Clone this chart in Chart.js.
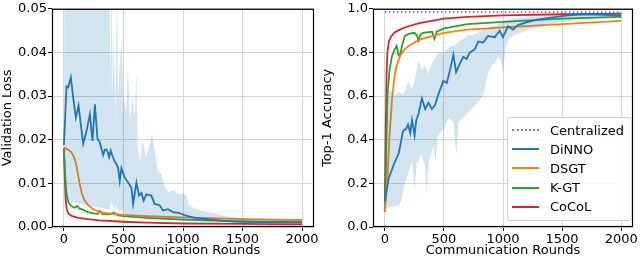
<!DOCTYPE html>
<html>
<head>
<meta charset="utf-8">
<script src="https://cdn.jsdelivr.net/npm/chart.js@4.4.0/dist/chart.umd.min.js"></script>
<style>
  body { margin: 0; background: #fff; }
  #wrap { position: relative; width: 640px; height: 258px; }
  .box { position: absolute; top: 0; width: 320px; height: 258px; }
  #legend {
    position: absolute; left: 507px; top: 117px; width: 125px; height: 104px;
    border: 1px solid #d0d0d0; border-radius: 3px; background: rgba(255,255,255,0.85);
    font: 13px "DejaVu Sans", sans-serif; color: #000; box-sizing: border-box; padding-top: 2.5px;
  }
  .row { display: flex; align-items: center; height: 19.2px; }
  .swatch { width: 27px; margin-left: 4px; margin-right: 11px; }
</style>
</head>
<body>
<div id="wrap">
  <div class="box" style="left:0"><canvas id="lossChart" width="320" height="258"></canvas></div>
  <div class="box" style="left:320px"><canvas id="accChart" width="320" height="258"></canvas></div>
  <div id="legend"></div>
</div>
<script>
// ---- data ----
const xTicks = [0, 500, 1000, 1500, 2000];

// validation loss
const dinnoLossX = [0, 22, 36, 58, 83, 100, 123, 162, 190, 218, 240, 260, 282, 300, 315, 330, 343, 355, 371, 380, 393, 405, 427, 440, 455, 469, 483, 511, 539, 567, 581, 609, 631, 651, 670, 692, 734, 762, 804, 832, 874, 916, 971, 1013, 1041, 1100, 1200, 1300, 1400, 1500, 1700, 2000];
const dinnoLoss = [0.0188, 0.0322, 0.032, 0.0343, 0.0285, 0.0251, 0.0278, 0.0191, 0.022, 0.0258, 0.0197, 0.0281, 0.0202, 0.0195, 0.018, 0.0165, 0.0177, 0.0178, 0.017, 0.016, 0.0175, 0.0165, 0.015, 0.0145, 0.0135, 0.0105, 0.0135, 0.0113, 0.0102, 0.009, 0.0053, 0.0102, 0.0072, 0.0078, 0.006, 0.0075, 0.0072, 0.0053, 0.005, 0.0038, 0.0041, 0.0034, 0.0032, 0.0027, 0.0025, 0.0021, 0.0018, 0.0015, 0.0013, 0.0012, 0.0011, 0.001];
const dinnoLossBandX = [0, 6, 380, 390, 400, 410, 420, 435, 445, 455, 470, 485, 500, 520, 537, 555, 575, 595, 608, 620, 640, 660, 690, 720, 740, 760, 790, 820, 850, 880, 920, 960, 1000, 1030, 1050, 1100, 1200, 1300, 1350, 1500, 1700, 2000];
const dinnoLossHi = [0.019, 0.08, 0.08, 0.03, 0.06, 0.03, 0.045, 0.025, 0.06, 0.03, 0.038, 0.042, 0.03, 0.026, 0.037, 0.024, 0.03, 0.025, 0.036, 0.018, 0.015, 0.02, 0.016, 0.019, 0.0215, 0.018, 0.013, 0.012, 0.009, 0.008, 0.0085, 0.0075, 0.0078, 0.007, 0.005, 0.0042, 0.0035, 0.003, 0.0025, 0.002, 0.0017, 0.0015];
const dinnoLossLo = [0.018, 0.006, 0.004, 0.005, 0.006, 0.005, 0.004, 0.005, 0.004, 0.004, 0.0035, 0.004, 0.003, 0.003, 0.0028, 0.0026, 0.0025, 0.0024, 0.0023, 0.0022, 0.002, 0.002, 0.002, 0.0019, 0.0019, 0.0018, 0.0018, 0.0017, 0.0017, 0.0016, 0.0016, 0.0015, 0.0015, 0.0014, 0.0014, 0.0013, 0.0012, 0.0011, 0.0011, 0.001, 0.0009, 0.0008];
const dsgtLossX = [0, 30, 60, 80, 100, 115, 130, 150, 170, 200, 250, 300, 400, 500, 700, 1000, 1500, 2000];
const dsgtLoss = [0.0182, 0.0178, 0.0172, 0.0163, 0.0148, 0.0125, 0.0102, 0.0078, 0.0063, 0.0051, 0.004, 0.0034, 0.003, 0.0028, 0.0025, 0.0022, 0.0018, 0.0016];
const kgtLossX = [0, 10, 20, 35, 60, 90, 110, 130, 160, 200, 250, 285, 300, 320, 380, 420, 450, 500, 700, 1000, 1500, 2000];
const kgtLoss = [0.018, 0.012, 0.008, 0.0058, 0.0048, 0.0044, 0.0048, 0.0042, 0.004, 0.0034, 0.0031, 0.003, 0.0037, 0.003, 0.0029, 0.0033, 0.0027, 0.0025, 0.0021, 0.0017, 0.0013, 0.0011];
const cocolLossX = [0, 8, 15, 25, 40, 70, 120, 200, 300, 500, 700, 1000, 1500, 2000];
const cocolLoss = [0.018, 0.011, 0.006, 0.004, 0.003, 0.0025, 0.0021, 0.0018, 0.0015, 0.0012, 0.001, 0.0008, 0.0007, 0.0006];

// top-1 accuracy
const centralizedAcc = 0.985;
const dinnoAccX = [0, 34, 76, 118, 154, 180, 196, 215, 230, 252, 266, 286, 314, 342, 370, 398, 426, 454, 496, 524, 552, 580, 603, 636, 664, 692, 720, 762, 790, 832, 874, 930, 972, 1000, 1042, 1084, 1126, 1210, 1294, 1406, 1546, 1686, 2000];
const dinnoAcc = [0.12, 0.225, 0.287, 0.338, 0.44, 0.45, 0.47, 0.43, 0.49, 0.42, 0.49, 0.52, 0.59, 0.54, 0.57, 0.54, 0.56, 0.61, 0.67, 0.66, 0.72, 0.79, 0.71, 0.75, 0.78, 0.77, 0.8, 0.815, 0.85, 0.845, 0.875, 0.87, 0.9, 0.87, 0.92, 0.905, 0.925, 0.94, 0.95, 0.96, 0.97, 0.975, 0.97];
const dinnoAccBandX = [0, 15, 30, 50, 80, 120, 140, 160, 200, 230, 255, 270, 280, 300, 310, 340, 355, 365, 375, 400, 410, 430, 450, 500, 540, 560, 580, 605, 625, 660, 700, 750, 815, 840, 870, 900, 930, 960, 980, 1000, 1020, 1050, 1100, 1200, 1400, 1500, 1600, 2000];
const dinnoAccHi = [0.12, 0.5, 0.62, 0.63, 0.6, 0.62, 0.61, 0.61, 0.67, 0.63, 0.68, 0.72, 0.76, 0.74, 0.72, 0.74, 0.72, 0.7, 0.72, 0.75, 0.76, 0.78, 0.8, 0.8, 0.82, 0.83, 0.83, 0.84, 0.85, 0.86, 0.88, 0.88, 0.9, 0.91, 0.91, 0.92, 0.92, 0.93, 0.93, 0.94, 0.945, 0.95, 0.955, 0.96, 0.97, 0.975, 0.975, 0.975];
const dinnoAccLo = [0.1, 0.085, 0.088, 0.09, 0.095, 0.1, 0.12, 0.18, 0.25, 0.3, 0.17, 0.3, 0.29, 0.33, 0.33, 0.28, 0.15, 0.25, 0.3, 0.35, 0.37, 0.3, 0.42, 0.45, 0.5, 0.49, 0.48, 0.33, 0.48, 0.5, 0.52, 0.55, 0.59, 0.62, 0.7, 0.74, 0.75, 0.78, 0.77, 0.71, 0.82, 0.86, 0.88, 0.9, 0.93, 0.94, 0.95, 0.965];
const dsgtAccX = [0, 20, 40, 60, 80, 100, 130, 160, 200, 300, 400, 500, 700, 1000, 1500, 2000];
const dsgtAcc = [0.07, 0.2, 0.42, 0.58, 0.68, 0.74, 0.785, 0.81, 0.83, 0.86, 0.875, 0.89, 0.905, 0.915, 0.93, 0.945];
const kgtAccX = [0, 10, 22, 40, 60, 80, 100, 115, 125, 150, 170, 200, 250, 270, 285, 300, 320, 400, 420, 440, 500, 700, 1000, 1500, 2000];
const kgtAcc = [0.07, 0.3, 0.6, 0.72, 0.78, 0.81, 0.83, 0.79, 0.78, 0.84, 0.875, 0.885, 0.89, 0.88, 0.855, 0.88, 0.89, 0.895, 0.862, 0.895, 0.91, 0.93, 0.94, 0.955, 0.963];
const cocolAccX = [0, 8, 15, 22, 35, 50, 80, 110, 150, 200, 300, 400, 500, 700, 1000, 1500, 2000];
const cocolAcc = [0.11, 0.45, 0.7, 0.8, 0.85, 0.87, 0.89, 0.9, 0.91, 0.92, 0.935, 0.945, 0.955, 0.963, 0.97, 0.975, 0.978];

const COLORS = { cent: '#9467bd', dinno: '#1f77b4', dsgt: '#ff7f0e', kgt: '#2ca02c', cocol: '#d62728' };
const FONT = { family: '"DejaVu Sans", sans-serif', size: 13 };

function pts(xs, ys) {
  return xs.map((x, i) => ({ x: x, y: ys[i] }));
}
function line(label, xs, ys, color) {
  return { label: label, data: pts(xs, ys), borderColor: color, borderWidth: 1.8, pointRadius: 0, fill: false, tension: 0 };
}
function band(xs, hi, lo, color) {
  return [
    { label: '_hi', data: pts(xs, hi), borderWidth: 0, borderColor: 'transparent', pointRadius: 0, fill: false },
    { label: '_lo', data: pts(xs, lo), borderWidth: 0, borderColor: 'transparent', pointRadius: 0, fill: '-1', backgroundColor: color }
  ];
}

// black frame round the plot area, like matplotlib spines
const framePlugin = {
  id: 'frame',
  afterDatasetsDraw(chart) {
    const a = chart.chartArea, c = chart.ctx;
    c.save();
    c.strokeStyle = '#000';
    c.lineWidth = 1.2;
    c.strokeRect(a.left + 0.5, a.top + 0.5, a.right - a.left - 1, a.bottom - a.top - 1);
    c.restore();
  }
};

function makeOptions(yMax, yStep, yDec, yTitle, padRight, yWidth) {
  return {
    responsive: false,
    animation: false,
    layout: { autoPadding: false, padding: { left: 0, right: padRight, top: 4, bottom: 0 } },
    plugins: { legend: { display: false }, tooltip: { enabled: false } },
    scales: {
      x: {
        type: 'linear', min: -100, max: 2100,
        afterBuildTicks: s => { s.ticks = xTicks.map(v => ({ value: v })); },
        afterFit: s => { s.height = 31; },
        grid: { color: '#d4d4d4', lineWidth: 1, tickColor: '#000', tickLength: 4 },
        border: { display: false },
        ticks: { color: '#000', font: FONT, padding: 1, maxRotation: 0, callback: v => String(v) },
        title: { display: true, text: 'Communication Rounds', color: '#000', font: FONT, padding: { top: 0, bottom: 0 } }
      },
      y: {
        min: 0, max: yMax,
        ticks: { stepSize: yStep, color: '#000', font: FONT, padding: 1, callback: v => v.toFixed(yDec) },
        afterFit: s => { s.width = yWidth; },
        grid: { color: '#d4d4d4', lineWidth: 1, tickColor: '#000', tickLength: 4 },
        border: { display: false },
        title: { display: true, text: yTitle, color: '#000', font: FONT, padding: { top: 0, bottom: 2 } }
      }
    }
  };
}

new Chart(document.getElementById('lossChart').getContext('2d'), {
  type: 'line',
  data: {
    datasets: [
      ...band(dinnoLossBandX, dinnoLossHi, dinnoLossLo, 'rgba(31,119,180,0.2)'),
      line('DiNNO', dinnoLossX, dinnoLoss, COLORS.dinno),
      line('DSGT', dsgtLossX, dsgtLoss, COLORS.dsgt),
      line('K-GT', kgtLossX, kgtLoss, COLORS.kgt),
      line('CoCoL', cocolLossX, cocolLoss, COLORS.cocol)
    ]
  },
  options: makeOptions(0.05, 0.01, 2, 'Validation Loss', 6, 52),
  plugins: [framePlugin]
});

const centLine = line('Centralized', [0, 2000], [centralizedAcc, centralizedAcc], COLORS.cent);
centLine.borderDash = [1.5, 2.5];

new Chart(document.getElementById('accChart').getContext('2d'), {
  type: 'line',
  data: {
    datasets: [
      ...band(dinnoAccBandX, dinnoAccHi, dinnoAccLo, 'rgba(31,119,180,0.2)'),
      centLine,
      line('DiNNO', dinnoAccX, dinnoAcc, COLORS.dinno),
      line('DSGT', dsgtAccX, dsgtAcc, COLORS.dsgt),
      line('K-GT', kgtAccX, kgtAcc, COLORS.kgt),
      line('CoCoL', cocolAccX, cocolAcc, COLORS.cocol)
    ]
  },
  options: makeOptions(1.0, 0.2, 1, 'Top-1 Accuracy', 7, 53),
  plugins: [framePlugin]
});

// legend inside the accuracy plot
const legendItems = [
  ['Centralized', COLORS.cent, 'dotted'],
  ['DiNNO', COLORS.dinno, 'solid'],
  ['DSGT', COLORS.dsgt, 'solid'],
  ['K-GT', COLORS.kgt, 'solid'],
  ['CoCoL', COLORS.cocol, 'solid']
];
const legendEl = document.getElementById('legend');
legendItems.forEach(([name, color, style]) => {
  const row = document.createElement('div');
  row.className = 'row';
  row.innerHTML = '<div class="swatch" style="border-top:2px ' + style + ' ' + color + '"></div><span>' + name + '</span>';
  legendEl.appendChild(row);
});
</script>
</body>
</html>
